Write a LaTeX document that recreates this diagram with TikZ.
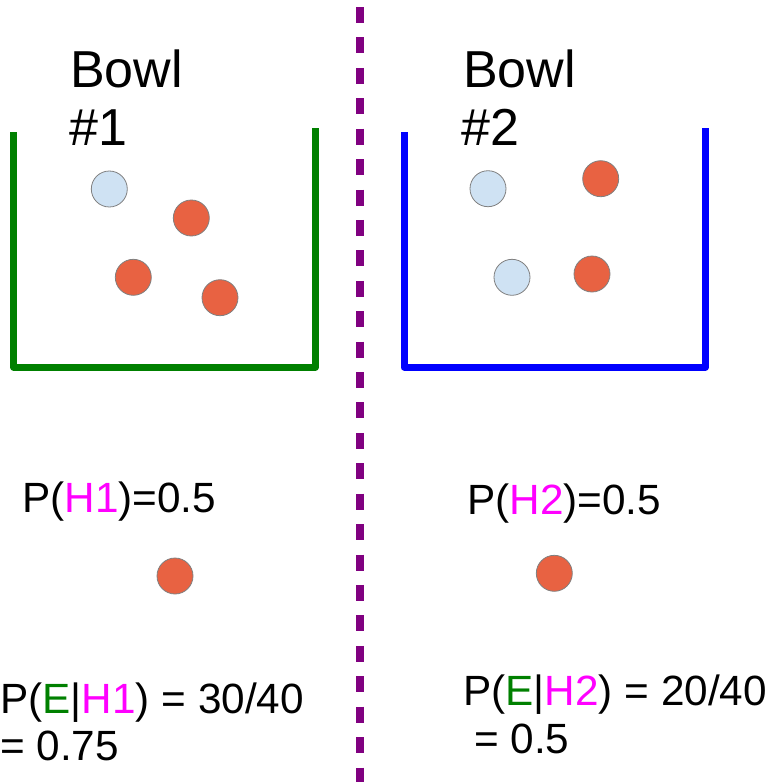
\documentclass[tikz,border=0pt]{standalone}
\usepackage{fontspec}
\setmainfont{Liberation Sans}
\definecolor{ballred}{RGB}{232,98,66}
\definecolor{ballblue}{RGB}{207,226,243}
\definecolor{bowlgreen}{RGB}{0,128,0}
\definecolor{bowlblue}{RGB}{0,0,255}
\definecolor{divider}{RGB}{128,0,128}
\definecolor{hyp}{RGB}{255,0,255}
\tikzset{
  ball/.style={circle, draw=gray, line width=0.8pt, minimum size=36pt, inner sep=0pt},
  redball/.style={ball, fill=ballred},
  blueball/.style={ball, fill=ballblue},
  bowlwall/.style={line width=7pt, line join=round},
  title/.style={anchor=base west, inner sep=0pt, font=\fontsize{52}{58}\selectfont},
  formula/.style={anchor=base west, inner sep=0pt, font=\fontsize{42.3}{47}\selectfont},
}
\newcommand{\hy}[1]{\textcolor{hyp}{#1}}
\newcommand{\ev}[1]{\textcolor{bowlgreen}{#1}}
\begin{document}
\begin{tikzpicture}[x=1pt, y=-1pt]
  \useasboundingbox (0,0) rectangle (771,782);

  % dividing line
  \coordinate (divtop) at (360,7);
  \coordinate (divbot) at (360,782);
  \draw[divider, line width=8pt, dash pattern=on 16pt off 14.42pt] (divtop) -- (divbot);

  % bowl 1
  \coordinate (b1tl) at (13.5,132);
  \coordinate (b1bl) at (13.5,367);
  \coordinate (b1br) at (315.5,367);
  \coordinate (b1tr) at (315.5,128);
  \draw[bowlwall, bowlgreen] (b1tl) -- (b1bl) -- (b1br) -- (b1tr);
  \node[title] (t1a) at (70,87) {Bowl};
  \node[title] (t1b) at (69,145) {\#1};
  \node[blueball] (a1) at (109.3,189) {};
  \node[redball]  (a2) at (191.3,218) {};
  \node[redball]  (a3) at (133.3,277.3) {};
  \node[redball]  (a4) at (220,297.7) {};

  % bowl 2
  \coordinate (b2tl) at (404,132);
  \coordinate (b2bl) at (404,367);
  \coordinate (b2br) at (705.5,367);
  \coordinate (b2tr) at (705.5,128);
  \draw[bowlwall, bowlblue] (b2tl) -- (b2bl) -- (b2br) -- (b2tr);
  \node[title] (t2a) at (463,87) {Bowl};
  \node[title] (t2b) at (461,145) {\#2};
  \node[blueball] (c1) at (488,188.7) {};
  \node[redball]  (c2) at (600.7,178.7) {};
  \node[blueball] (c3) at (512,277.3) {};
  \node[redball]  (c4) at (592,274) {};

  % probabilities, left side
  \node[formula] (p1) at (22,512) {P(\hy{H1})=0.5};
  \node[redball] (d1) at (175,576) {};
  \node[formula] (e1a) at (0,713) {P(\ev{E}|\hy{H1}) = 30/40};
  \node[formula] (e1b) at (0,760) {= 0.75};

  % probabilities, right side
  \node[formula] (p2) at (467,514) {P(\hy{H2})=0.5};
  \node[redball] (d2) at (554.3,573.3) {};
  \node[formula] (e2a) at (463,705) {P(\ev{E}|\hy{H2}) = 20/40};
  \node[formula] (e2b) at (474,753) {= 0.5};
\end{tikzpicture}
\end{document}
